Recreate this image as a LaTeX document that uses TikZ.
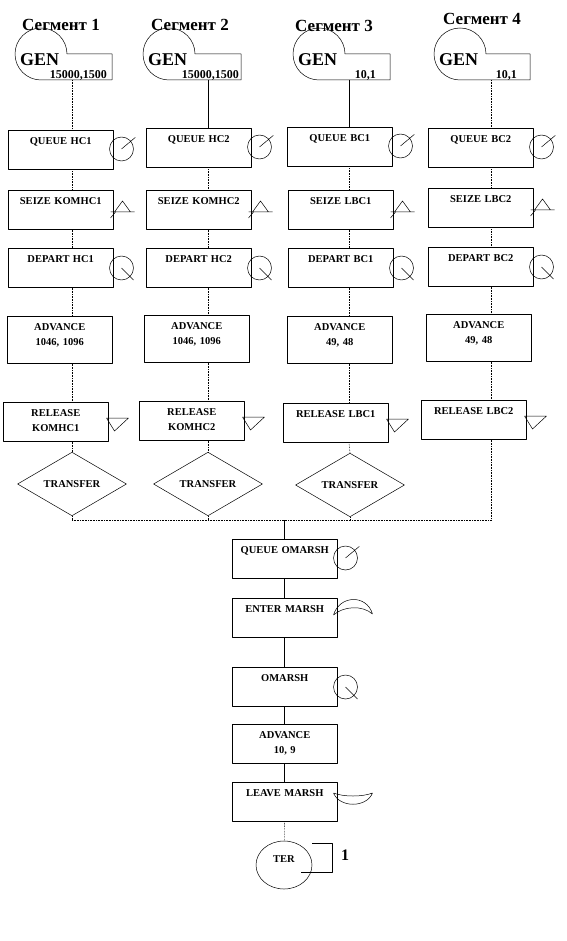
\documentclass[tikz,border=0pt]{standalone}
\usepackage{fontspec}
\setmainfont{Liberation Serif}
\usetikzlibrary{calc, shapes.geometric}

% GEN block: loop + open frame, #1 name, #2 loop centre x, #3 frame right, #4 numbers right, #5 numbers
\newcommand{\genblock}[5]{%
  \coordinate (#1) at (#2,54);
  \draw[sym] ($(#1)+(26pt,0)$) -- (#3,54) -- (#3,80) -- (#2,80)
    arc[start angle=270, end angle=0, radius=26pt];
  \coordinate (#1bot) at (#2,80);
  \node[gentxt, anchor=base west] (#1txt) at ({#2-21},66) {GEN};
  \node[numtxt, anchor=base east] (#1num) at (#4,79) {#5};
}
% block symbols, drawn beside the north east corner of a box
\newcommand{\queuesym}[1]{\draw[sym] ($(#1.north east)+(8,19)$) circle (12pt) -- ++(40:18pt);}
\newcommand{\departsym}[1]{\draw[sym] ($(#1.north east)+(8,20)$) circle (12pt) -- ++(-45:17pt);}
\newcommand{\seizesym}[1]{\draw[sym] ($(#1.north east)+(1,22)$) -- ++(8,-11) -- ++(8,11)
  ($(#1.north east)+(-3,22)$) -- ++(24,0) ($(#1.north east)+(2,22)$) -- ++(-5,6);}
\newcommand{\releasesym}[1]{\draw[sym] ($(#1.north east)+(-2,16)$) -- ++(22,0)
  -- ($(#1.north east)+(6,29)$) -- cycle;}

\tikzset{
  sym/.style={line width=0.5pt},
  blk/.style={draw, line width=0.5pt, anchor=north west, inner sep=0pt,
    text width=105pt, align=center, text height=14.5pt, text depth=24.5pt,
    font=\fontsize{10.5}{14.5}\selectfont\bfseries},
  adv/.style={blk, text depth=32.5pt},
  xfer/.style={draw, diamond, line width=0.5pt, inner sep=0pt,
    minimum width=109pt, minimum height=51pt,
    font=\fontsize{10.5}{12}\selectfont\bfseries},
  title/.style={anchor=base, font=\fontsize{17}{20}\selectfont\bfseries},
  gentxt/.style={inner sep=0pt, font=\fontsize{18}{20}\selectfont\bfseries},
  numtxt/.style={inner sep=0pt, font=\fontsize{12}{14}\selectfont\bfseries},
  link/.style={line width=0.6pt, densely dotted},
  trunk/.style={line width=0.6pt},
}

\begin{document}
\begin{tikzpicture}[x=1pt, y=-1pt, line join=round]
  \useasboundingbox (0,0) rectangle (566,941);

  % column axes and the collecting line
  \coordinate (c1) at (72,0);
  \coordinate (c2) at (208,0);
  \coordinate (c3) at (349,0);
  \coordinate (c4) at (491,0);
  \coordinate (bus) at (0,520);

  % titles
  \node[title] (seg1) at (61,31) {Сегмент 1};
  \node[title] (seg2) at (190,31) {Сегмент 2};
  \node[title] (seg3) at (334,32) {Сегмент 3};
  \node[title] (seg4) at (482,25) {Сегмент 4};

  % generators
  \genblock{gen1}{41}{112}{107}{15000,1500}
  \genblock{gen2}{169}{241}{239}{15000,1500}
  \genblock{gen3}{319}{390}{376}{10,1}
  \genblock{gen4}{460}{530}{517}{10,1}

  % segment 1
  \node[blk] (q1) at (8,130) {QUEUE HC1};
  \node[blk] (s1) at (8,190) {SEIZE KOMHC1};
  \node[blk] (d1) at (8,248) {DEPART HC1};
  \node[adv] (a1) at (7,316) {ADVANCE\\1046, 1096};
  \node[blk] (r1) at (3,402) {RELEASE\\KOMHC1};
  \node[xfer] (t1) at (72,484) {TRANSFER};

  % segment 2
  \node[blk] (q2) at (146,128) {QUEUE HC2};
  \node[blk] (s2) at (146,190) {SEIZE KOMHC2};
  \node[blk] (d2) at (146,248) {DEPART HC2};
  \node[adv] (a2) at (144,315) {ADVANCE\\1046, 1096};
  \node[blk] (r2) at (139,401) {RELEASE\\KOMHC2};
  \node[xfer] (t2) at (208,484) {TRANSFER};

  % segment 3
  \node[blk] (q3) at (287,127) {QUEUE BC1};
  \node[blk] (s3) at (288,190) {SEIZE LBC1};
  \node[blk] (d3) at (288,248) {DEPART BC1};
  \node[adv] (a3) at (287,316) {ADVANCE\\49, 48};
  \node[blk] (r3) at (283,403) {RELEASE LBC1};
  \node[xfer] (t3) at (350,485) {TRANSFER};

  % segment 4
  \node[blk] (q4) at (428,128) {QUEUE BC2};
  \node[blk] (s4) at (428,188) {SEIZE LBC2};
  \node[blk] (d4) at (428,247) {DEPART BC2};
  \node[adv] (a4) at (426,314) {ADVANCE\\49, 48};
  \node[blk] (r4) at (421,400) {RELEASE LBC2};

  % common part
  \node[blk] (qm) at (232,539) {QUEUE OMARSH};
  \node[blk] (em) at (232,598) {ENTER MARSH};
  \node[blk] (om) at (232,667) {OMARSH};
  \node[blk] (am) at (232,724) {ADVANCE\\10, 9};
  \node[blk] (lm) at (232,782) {LEAVE MARSH};
  \node[draw, ellipse, line width=0.5pt, inner sep=0pt, minimum width=56pt,
    minimum height=48pt, text height=7pt, text depth=12pt,
    font=\fontsize{10.5}{12}\selectfont\bfseries] (ter) at (284,865) {TER};
  \node[anchor=base, font=\fontsize{16}{18}\selectfont\bfseries] (cnt) at (345,860) {1};

  % symbols
  \foreach \n in {q1,q2,q3,q4,qm} {\queuesym{\n}}
  \foreach \n in {d1,d2,d3,d4,om} {\departsym{\n}}
  \foreach \n in {s1,s2,s3,s4} {\seizesym{\n}}
  \foreach \n in {r1,r2,r3,r4} {\releasesym{\n}}
  \draw[sym] ($(em.north east)+(-4,17)$) .. controls +(6,-20) and +(-6,-20) .. ($(em.north east)+(35,16)$)
    .. controls +(-10,-9) and +(10,-9) .. ($(em.north east)+(-4,17)$);
  \draw[sym] ($(lm.north east)+(-4,11)$) .. controls +(6,15) and +(-6,15) .. ($(lm.north east)+(35,11)$)
    .. controls +(-10,4) and +(10,4) .. ($(lm.north east)+(-4,11)$);
  \draw[sym] ($(ter.center)+(17,7)$) -- ++(31,0) -- ++(0,-29) -- ++(-20,0);

  % segment connectors
  \draw[link] (gen1bot -| c1) -- (q1.north -| c1);
  \draw[trunk] (gen2bot -| c2) -- (q2.north -| c2);
  \draw[trunk] (gen3bot -| c3) -- (q3.north -| c3);
  \draw[link] (gen4bot -| c4) -- (q4.north -| c4);
  \foreach \k in {1,2,3,4} {
    \draw[link] (q\k.south -| c\k) -- (s\k.north -| c\k);
    \draw[link] (s\k.south -| c\k) -- (d\k.north -| c\k);
    \draw[link] (d\k.south -| c\k) -- (a\k.north -| c\k);
    \draw[link] (a\k.south -| c\k) -- (r\k.north -| c\k);
  }
  \foreach \k in {1,2,3} {
    \draw[link] (r\k.south -| c\k) -- (t\k.north);
    \draw[link] (t\k.south) -- (t\k.south |- bus);
  }
  \draw[link] (r4.south -| c4) -- (bus -| c4);
  \draw[link] (bus -| c1) -- (bus -| c4);

  % common part connectors
  \draw[trunk] (bus -| qm.north) -- (qm.north);
  \draw[trunk] (qm) -- (em);
  \draw[trunk] (em) -- (om);
  \draw[trunk] (om) -- (am);
  \draw[trunk] (am) -- (lm);
  \draw[link] (lm) -- (ter);

\end{tikzpicture}
\end{document}
